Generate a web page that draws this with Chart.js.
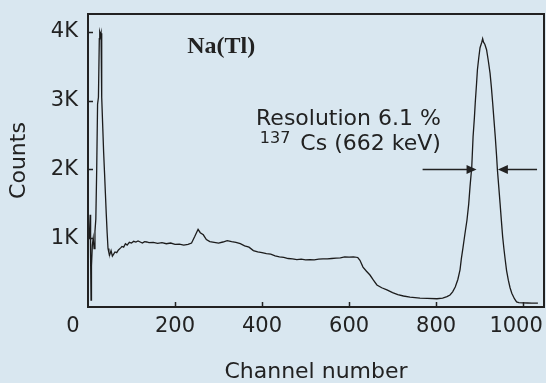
<!DOCTYPE html>
<html>
<head>
<meta charset="utf-8">
<script src="https://cdn.jsdelivr.net/npm/chart.js@4"></script>
<style>
  html, body { margin: 0; padding: 0; background: #d9e7f0; }
  #c { display: block; }
</style>
</head>
<body>
<canvas id="c" width="546" height="383"></canvas>
<script>
// ---- data ----
const channels = [3,5,6,7,8,10,12,14,16,18,20,22,24,26,27,29,30,31,32,34,36,38,40,42,44,46,48,50,53,56,59,62,66,70,75,78,82,86,90,95,100,105,110,115,120,125,130,135,140,150,160,170,180,190,200,210,220,230,238,245,253,258,265,272,280,290,300,310,320,330,340,350,360,370,380,390,400,410,420,430,440,450,460,470,480,490,500,510,520,530,540,550,560,570,580,590,600,610,620,625,632,640,648,656,664,675,687,700,712,725,740,763,780,802,815,825,832,838,844,850,855,858,862,866,871,875,878,882,885,888,890,893,895,898,901,905,907,909,912,916,920,924,927,930,933,936,939,941,944,947,950,953,956,959,962,966,970,974,980,985,990,1000,1010,1020,1034];
const counts = [1000,1340,700,100,600,900,1000,850,1100,1280,2000,2950,3050,3900,4000,3950,3980,3500,3050,2600,2240,1950,1650,1350,1080,850,790,760,820,740,770,800,790,830,860,880,870,920,900,940,930,955,945,960,945,930,950,945,935,940,925,935,920,930,910,915,900,910,930,1020,1130,1080,1050,980,950,940,930,945,965,950,940,920,890,870,820,800,790,775,770,745,730,720,705,700,690,695,685,690,685,695,700,700,705,710,715,730,725,730,720,680,580,520,465,390,320,280,250,210,180,160,145,130,125,120,130,150,175,220,290,400,540,700,870,1050,1265,1500,1750,2040,2475,2750,2970,3250,3450,3620,3770,3850,3900,3850,3820,3740,3580,3400,3200,2970,2720,2475,2200,1990,1750,1510,1260,1020,840,680,530,390,280,200,120,75,65,60,58,55,55];
const xTickValues = [0,200,400,600,800,1000];
const yTickValues = [1000,2000,3000,4000];
const yTickLabels = ['1K','2K','3K','4K'];
const xTitle = 'Channel number';
const yTitle = 'Counts';
const crystalLabel = 'Na(Tl)';
const resolutionLine = 'Resolution 6.1 %';
const isotopeSup = '137';
const isotopeLine = 'Cs (662 keV)';
// FWHM arrows (data units): [tail channel, tip channel] at a count level
const fwhmLevel = 2000;
const leftArrow = [769, 893];
const rightArrow = [1032, 942];
// end tick labels that sit off-centre in the reference: [value, pixel shift]
const shiftedXLabels = [[0, -15], [1000, -7]];

const INK = '#222222';
const BG = '#d9e7f0';
const SANS = '"DejaVu Sans", sans-serif';

const points = channels.map((c, i) => ({x: c, y: counts[i]}));

const decor = {
  id: 'decor',
  beforeDraw(chart) {
    const ctx = chart.ctx;
    ctx.save();
    ctx.fillStyle = BG;
    ctx.fillRect(0, 0, chart.width, chart.height);
    ctx.restore();
  },
  afterDraw(chart) {
    const ctx = chart.ctx;
    const a = chart.chartArea;
    const xs = chart.scales.x, ys = chart.scales.y;
    ctx.save();
    // frame
    ctx.strokeStyle = INK;
    ctx.lineWidth = 2;
    ctx.strokeRect(a.left, a.top, a.right - a.left, a.bottom - a.top);
    // inward tick marks
    ctx.lineWidth = 1.5;
    ctx.beginPath();
    xTickValues.forEach(v => {
      if (v === 0) return;
      const px = Math.round(xs.getPixelForValue(v)) + 0.5;
      ctx.moveTo(px, a.bottom);
      ctx.lineTo(px, a.bottom - 5);
    });
    yTickValues.forEach(v => {
      const py = Math.round(ys.getPixelForValue(v)) + 0.5;
      ctx.moveTo(a.left, py);
      ctx.lineTo(a.left + 5, py);
    });
    ctx.stroke();
    // end labels shifted as in the reference
    ctx.fillStyle = INK;
    ctx.font = '21px ' + SANS;
    ctx.textAlign = 'center';
    ctx.textBaseline = 'middle';
    shiftedXLabels.forEach(([v, dx]) => {
      ctx.fillText(String(v), xs.getPixelForValue(v) + dx, a.bottom + 7 + 12.6);
    });

    // crystal label
    ctx.font = 'bold 24px "Liberation Serif", serif';
    ctx.textAlign = 'center';
    ctx.textBaseline = 'alphabetic';
    ctx.fillText(crystalLabel, xs.getPixelForValue(306), ys.getPixelForValue(3695));

    // resolution text (right aligned)
    const rx = xs.getPixelForValue(811);
    ctx.font = '22px ' + SANS;
    ctx.textAlign = 'right';
    ctx.fillText(resolutionLine, rx, ys.getPixelForValue(2647));
    const by = ys.getPixelForValue(2284);
    ctx.fillText(isotopeLine, rx, by);
    const w = ctx.measureText(isotopeLine).width;
    ctx.font = '16px ' + SANS;
    ctx.fillText(isotopeSup, rx - w - 10, by - 7);

    // FWHM arrows
    const ay = Math.round(ys.getPixelForValue(fwhmLevel)) + 0.5;
    const drawArrow = (tail, tip) => {
      const x0 = xs.getPixelForValue(tail), x1 = xs.getPixelForValue(tip);
      const dir = Math.sign(x1 - x0);
      ctx.lineWidth = 1.6;
      ctx.beginPath();
      ctx.moveTo(x0, ay);
      ctx.lineTo(x1 - dir * 6, ay);
      ctx.stroke();
      ctx.beginPath();
      ctx.moveTo(x1, ay);
      ctx.lineTo(x1 - dir * 10, ay - 4.5);
      ctx.lineTo(x1 - dir * 10, ay + 4.5);
      ctx.closePath();
      ctx.fill();
    };
    ctx.strokeStyle = INK;
    ctx.fillStyle = INK;
    drawArrow(leftArrow[0], leftArrow[1]);
    drawArrow(rightArrow[0], rightArrow[1]);
    ctx.restore();
  }
};

const shiftedValues = shiftedXLabels.map(p => p[0]);

new Chart(document.getElementById('c'), {
  type: 'line',
  data: {
    datasets: [{
      data: points,
      borderColor: '#1c1c1c',
      borderWidth: 1.3,
      pointRadius: 0,
      tension: 0,
      fill: false
    }]
  },
  options: {
    responsive: false,
    animation: false,
    devicePixelRatio: 1,
    layout: { padding: { top: 14, right: 2, left: 0, bottom: 0 } },
    plugins: { legend: { display: false }, tooltip: { enabled: false } },
    scales: {
      x: {
        type: 'linear',
        min: 0, max: 1048,
        afterBuildTicks: s => { s.ticks = xTickValues.map(v => ({value: v})); },
        afterFit: s => { s.height = 76; s.paddingLeft = 0; s.paddingRight = 0; },
        grid: { display: false, drawTicks: false },
        border: { display: false },
        ticks: {
          autoSkip: false, maxRotation: 0, padding: 7, color: INK,
          font: { family: SANS, size: 21 },
          callback: v => (shiftedValues.includes(v) ? '' : String(v))
        },
        title: {
          display: true, text: xTitle, color: INK,
          font: { family: SANS, size: 22, lineHeight: 1 },
          padding: { top: 0, bottom: 0 }
        }
      },
      y: {
        type: 'linear',
        min: 0, max: 4260,
        afterBuildTicks: s => { s.ticks = yTickValues.map(v => ({value: v})); },
        afterFit: s => { s.width = 88; s.paddingTop = 0; s.paddingBottom = 0; },
        grid: { display: false, drawTicks: false },
        border: { display: false },
        ticks: {
          autoSkip: false, padding: 10, color: INK,
          font: { family: SANS, size: 21 },
          callback: v => yTickLabels[yTickValues.indexOf(v)]
        },
        title: {
          display: true, text: yTitle, color: INK,
          font: { family: SANS, size: 22, lineHeight: 1 },
          padding: { top: 8, bottom: 0 }
        }
      }
    }
  },
  plugins: [decor]
});
</script>
</body>
</html>
